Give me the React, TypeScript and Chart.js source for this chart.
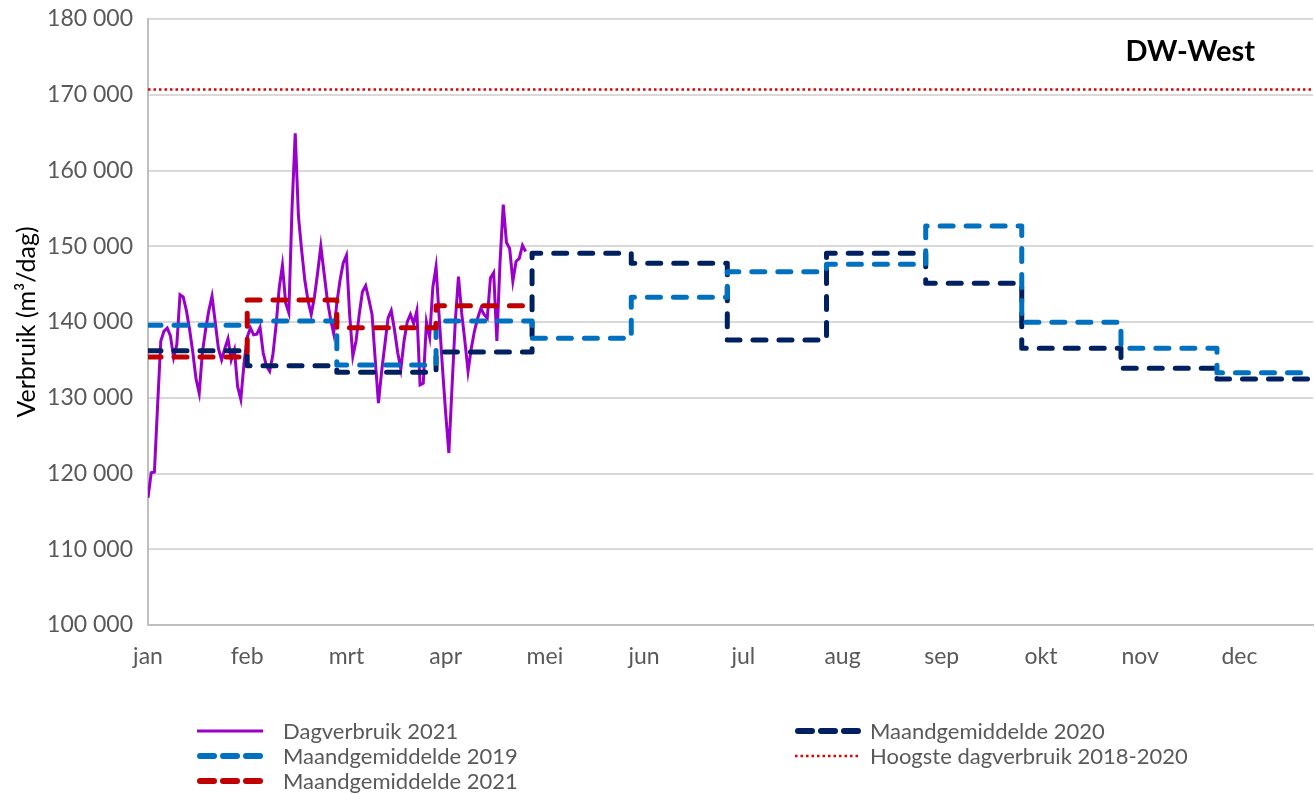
import React, { useEffect, useRef } from "react";
import { Chart, registerables } from "chart.js";

Chart.register(...registerables);

// ---- Data ----
const monthLabels = ["jan", "feb", "mrt", "apr", "mei", "jun", "jul", "aug", "sep", "okt", "nov", "dec"];
const tickDays = [0, 31, 62, 93, 124, 155, 186, 217, 248, 279, 310, 341];
const monthStartDays = [0, 31, 59, 90, 120, 151, 181, 212, 243, 273, 304, 334];
const yearEndDay = 364;

const avg2019 = [139560, 140130, 134320, 140130, 137850, 143260, 146640, 147620, 152670, 139960, 136530, 133310];
const avg2020 = [136210, 134230, 133380, 136040, 149070, 147750, 137620, 149070, 145110, 136530, 133890, 132470];
const avg2021 = [135380, 142900, 139250, 142150];
const avg2021EndDay = 118;
const hoogsteDagverbruik = 170700;

const daily2021 = [
  116800, 120100, 120200, 129000, 137500, 138800, 139200, 138200, 135300, 137000,
  143600, 143300, 141500, 139000, 136000, 132500, 130600, 136000, 139000, 141500,
  143400, 140000, 136500, 135000, 136500, 137800, 135000, 136300, 131500, 129800,
  134500, 138000, 139200, 138300, 138400, 139300, 135900, 134200, 133500, 135600,
  139500, 144500, 147500, 142500, 141200, 155000, 164900, 154000, 149500, 145500,
  142800, 141000, 143300, 146500, 150000, 146500, 143000, 140500, 138500, 142500,
  145500, 147800, 148800, 141000, 135500, 137500, 141000, 144000, 144800, 143000,
  141000, 135000, 129300, 133500, 137000, 140500, 141500, 139000, 136000, 133800,
  137500, 140000, 141000, 139800, 141500, 131700, 131900, 140000, 138000, 144600,
  147300, 140500, 134000, 128000, 122700, 131500, 140000, 146000, 141200, 137500,
  133500, 136500, 138800, 140500, 141800, 141000, 140500, 145800, 146500, 137500,
  148000, 155500, 150500, 149700, 145400, 148000, 148400, 150100, 149300,
];

const FONT = "Lato, 'Open Sans', 'Liberation Sans', sans-serif";

function stepPoints(values: number[], endDay: number) {
  const pts: { x: number; y: number }[] = [];
  values.forEach((v, i) => {
    const start = monthStartDays[i];
    const end = i + 1 < values.length ? monthStartDays[i + 1] : endDay;
    pts.push({ x: start, y: v });
    pts.push({ x: end, y: v });
  });
  return pts;
}

function formatThousands(v: number) {
  return String(Math.round(v)).replace(/\B(?=(\d{3})+(?!\d))/g, " ");
}

const COLORS = {
  purple: "#9900CC",
  navy: "#002060",
  blue: "#0070C0",
  red: "#C00000",
  dotted: "#E00000",
};

const legendItems = [
  { label: "Dagverbruik 2021", color: COLORS.purple, kind: "solid", col: 0, row: 0 },
  { label: "Maandgemiddelde 2020", color: COLORS.navy, kind: "dash", col: 1, row: 0 },
  { label: "Maandgemiddelde 2019", color: COLORS.blue, kind: "dash", col: 0, row: 1 },
  { label: "Hoogste dagverbruik 2018-2020", color: COLORS.dotted, kind: "dot", col: 1, row: 1 },
  { label: "Maandgemiddelde 2021", color: COLORS.red, kind: "dash", col: 0, row: 2 },
];

const titlePlugin = {
  id: "cornerTitle",
  afterDraw(chart: any) {
    const { ctx, chartArea } = chart;
    ctx.save();
    ctx.font = `bold 29px ${FONT}`;
    ctx.fillStyle = "#000000";
    ctx.textAlign = "right";
    ctx.textBaseline = "middle";
    ctx.fillText("DW-West", chartArea.right - 58, 52);
    ctx.restore();
  },
};

export default function App() {
  const canvasRef = useRef<HTMLCanvasElement | null>(null);

  useEffect(() => {
    if (!canvasRef.current) return;
    const dash = [13, 13];
    const chart = new Chart(canvasRef.current, {
      type: "line",
      data: {
        datasets: [
          {
            label: "Dagverbruik 2021",
            data: daily2021.map((v, i) => ({ x: i, y: v })),
            borderColor: COLORS.purple,
            borderWidth: 3,
            pointRadius: 0,
            tension: 0,
            order: 5,
          },
          {
            label: "Maandgemiddelde 2020",
            data: stepPoints(avg2020, yearEndDay),
            borderColor: COLORS.navy,
            borderWidth: 5,
            borderDash: dash,
            borderCapStyle: "round",
            borderJoinStyle: "round",
            pointRadius: 0,
            order: 4,
          },
          {
            label: "Maandgemiddelde 2019",
            data: stepPoints(avg2019, yearEndDay),
            borderColor: COLORS.blue,
            borderWidth: 5,
            borderDash: dash,
            borderCapStyle: "round",
            borderJoinStyle: "round",
            pointRadius: 0,
            order: 3,
          },
          {
            label: "Hoogste dagverbruik 2018-2020",
            data: [
              { x: 0, y: hoogsteDagverbruik },
              { x: yearEndDay, y: hoogsteDagverbruik },
            ],
            borderColor: COLORS.dotted,
            borderWidth: 2.5,
            borderDash: [2.5, 3],
            pointRadius: 0,
            order: 2,
          },
          {
            label: "Maandgemiddelde 2021",
            data: stepPoints(avg2021, avg2021EndDay),
            borderColor: COLORS.red,
            borderWidth: 5,
            borderDash: dash,
            borderCapStyle: "round",
            borderJoinStyle: "round",
            pointRadius: 0,
            order: 1,
          },
        ],
      },
      options: {
        animation: false,
        responsive: false,
        maintainAspectRatio: false,
        layout: { autoPadding: false, padding: { top: 19, right: 2, left: 0, bottom: 0 } },
        plugins: {
          legend: { display: false },
          tooltip: { enabled: false },
        },
        scales: {
          x: {
            type: "linear",
            min: 0,
            max: yearEndDay,
            afterBuildTicks: (scale: any) => {
              scale.ticks = tickDays.map((v) => ({ value: v }));
            },
            afterFit: (scale: any) => {
              scale.height = 169;
            },
            ticks: {
              autoSkip: false,
              maxRotation: 0,
              padding: 18,
              color: "#595959",
              font: { family: FONT, size: 23 },
              callback: (v: any) => {
                const idx = tickDays.indexOf(Number(v));
                return idx >= 0 ? monthLabels[idx] : "";
              },
            },
            grid: { display: false, drawTicks: false },
            border: { display: true, color: "#BFBFBF", width: 2 },
          },
          y: {
            min: 100000,
            max: 180000,
            afterFit: (scale: any) => {
              scale.width = 148;
            },
            ticks: {
              stepSize: 10000,
              padding: 15,
              color: "#595959",
              font: { family: FONT, size: 23, lineHeight: 0.3 },
              callback: (v: any) => formatThousands(Number(v)),
            },
            grid: { color: "#D9D9D9", lineWidth: 2, drawTicks: false },
            border: { display: true, color: "#BFBFBF", width: 2 },
            title: {
              display: true,
              text: "Verbruik (m³/dag)",
              color: "#000000",
              font: { family: FONT, size: 25 },
              padding: { top: 12, bottom: 0 },
            },
          },
        },
      },
      plugins: [titlePlugin],
    } as any);
    return () => chart.destroy();
  }, []);

  const colX = [197, 795];
  const textX = [283, 870];
  const rowY = [731, 756, 781];

  return (
    <div style={{ position: "absolute", left: 0, top: 0, width: 1315, height: 794, background: "#ffffff", overflow: "hidden" }}>
      <canvas ref={canvasRef} width={1315} height={794} style={{ position: "absolute", left: 0, top: 0, width: 1315, height: 794 }} />
      {legendItems.map((it) => (
        <React.Fragment key={it.label}>
          <svg
            width={66}
            height={12}
            style={{ position: "absolute", left: colX[it.col], top: rowY[it.row] - 6 }}
          >
            {it.kind === "solid" && (
              <line x1={0} y1={6} x2={66} y2={6} stroke={it.color} strokeWidth={3} />
            )}
            {it.kind === "dash" && (
              <line x1={3} y1={6} x2={63} y2={6} stroke={it.color} strokeWidth={6} strokeDasharray="14 9" strokeLinecap="round" />
            )}
            {it.kind === "dot" && (
              <line x1={0} y1={6} x2={66} y2={6} stroke={it.color} strokeWidth={2.5} strokeDasharray="2.5 3" />
            )}
          </svg>
          <div
            style={{
              position: "absolute",
              left: textX[it.col],
              top: rowY[it.row] - 14,
              height: 28,
              lineHeight: "28px",
              fontFamily: FONT,
              fontSize: 22,
              color: "#595959",
              whiteSpace: "nowrap",
            }}
          >
            {it.label}
          </div>
        </React.Fragment>
      ))}
    </div>
  );
}
